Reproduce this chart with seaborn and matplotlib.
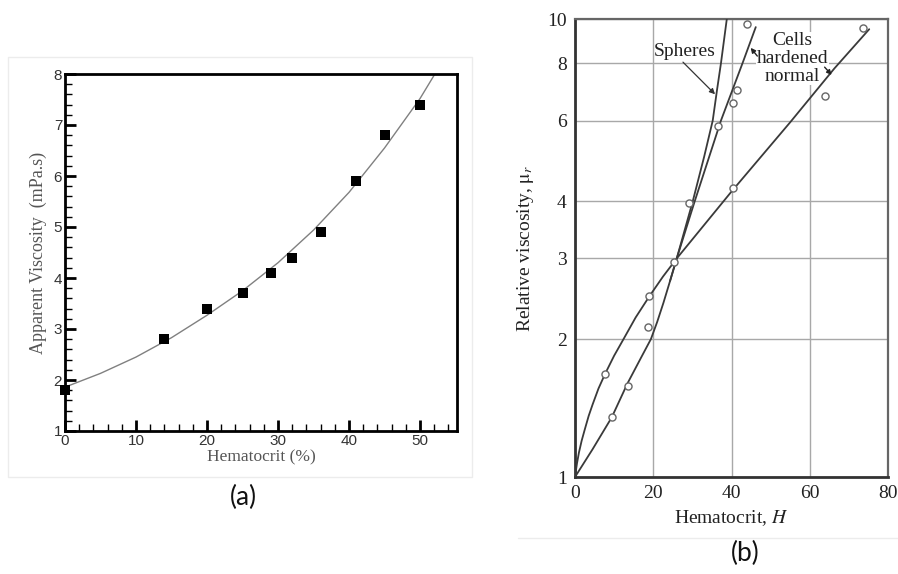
import numpy as np
import pandas as pd
import matplotlib
matplotlib.use("Agg")
import matplotlib.pyplot as plt
import seaborn as sns
from matplotlib.ticker import MultipleLocator, FixedLocator, FixedFormatter, NullLocator
from matplotlib.patches import Rectangle
from matplotlib.lines import Line2D

# --- panel (a): apparent viscosity vs hematocrit ---
hct_a = [0, 14, 20, 25, 29, 32, 36, 41, 45, 50]
visc_a = [1.8, 2.8, 3.4, 3.7, 4.1, 4.4, 4.9, 5.9, 6.8, 7.4]
fit_x_a = [0, 5, 10, 15, 20, 25, 30, 35, 40, 45, 50, 52]
fit_y_a = [1.86, 2.13, 2.45, 2.83, 3.27, 3.75, 4.3, 4.94, 5.68, 6.55, 7.52, 7.98]

# --- panel (b): relative viscosity (log) vs hematocrit ---
normal_x = [0, 0.5, 1, 1.7, 2.5, 3.5, 4.5, 6, 7.7, 10, 12.4, 15.5, 19, 22.5, 26, 40, 55, 66.3, 75.2]
normal_y = [1.0, 1.07, 1.13, 1.2, 1.27, 1.36, 1.44, 1.56, 1.68, 1.84, 2.0, 2.23, 2.48, 2.74, 3.0, 4.2, 5.95, 7.8, 9.5]
hard_x = [0, 4.5, 9.4, 13.4, 17, 19.4, 21, 22.6, 24.3, 26, 30.6, 37.3, 42.8, 46.2]
hard_y = [1.0, 1.15, 1.35, 1.6, 1.83, 2.0, 2.18, 2.4, 2.68, 3.0, 4.0, 6.0, 8.0, 9.6]
sphere_x = [24.3, 26, 30.1, 33, 35.2, 36.3, 37.3, 38.8]
sphere_y = [2.68, 3.0, 4.0, 5.0, 6.0, 7.0, 8.0, 10.0]
normal_pts_x = [7.7, 19, 25.4, 40.3, 63.8, 73.5]
normal_pts_y = [1.68, 2.48, 2.95, 4.27, 6.78, 9.55]
hard_pts_x = [9.4, 13.5, 18.7, 29.1, 36.6, 40.3, 41.5, 44]
hard_pts_y = [1.35, 1.58, 2.13, 3.97, 5.85, 6.56, 7.0, 9.73]

yticks_b = [1, 2, 3, 4, 6, 8, 10]
xticks_b = [0, 20, 40, 60, 80]

sns.set_theme(style="white")
plt.rcParams["mathtext.fontset"] = "stix"

fig = plt.figure(figsize=(8.98, 5.74), dpi=100)
W, H = 898, 574

# faint card borders like the source screenshot
fig.add_artist(Rectangle((8 / W, 1 - 477 / H), 464 / W, 420 / H, transform=fig.transFigure,
                         fill=False, edgecolor="#ececec", lw=1))
fig.add_artist(Line2D([518 / W, 1], [1 - 538 / H, 1 - 538 / H], transform=fig.transFigure,
                      color="#ececec", lw=1))

# ---------------- (a) ----------------
ax_a = fig.add_axes([65 / W, 1 - 431 / H, 392 / W, 357 / H])
sns.lineplot(x=fit_x_a, y=fit_y_a, ax=ax_a, color="#808080", lw=1.0, sort=False, estimator=None)
sns.scatterplot(x=hct_a, y=visc_a, ax=ax_a, marker="s", s=52, color="black",
                edgecolor="none", zorder=5, clip_on=False)
ax_a.set_xlim(0, 55.2)
ax_a.set_ylim(1, 8)
ax_a.xaxis.set_major_locator(MultipleLocator(10))
ax_a.xaxis.set_minor_locator(MultipleLocator(2))
ax_a.yaxis.set_major_locator(MultipleLocator(1))
ax_a.yaxis.set_minor_locator(MultipleLocator(0.2))
ax_a.tick_params(which="major", direction="in", length=8, width=2, color="black",
                 labelsize=11, pad=2, labelcolor="#333333")
ax_a.tick_params(which="minor", direction="in", length=5, width=1, color="black")
ax_a.tick_params(bottom=True, left=True, top=False, right=False, which="both")
for lab in ax_a.get_xticklabels() + ax_a.get_yticklabels():
    lab.set_family(["Liberation Sans", "DejaVu Sans"])
for sp in ax_a.spines.values():
    sp.set_color("black")
    sp.set_linewidth(2)
ax_a.set_xlabel("Hematocrit (%)", family=["Liberation Serif"], fontsize=12.5,
                color="#555555", labelpad=1)
ax_a.set_ylabel("Apparent Viscosity  (mPa.s)", family=["Liberation Serif"], fontsize=13,
                color="#555555", labelpad=5)

# ---------------- (b) ----------------
ax_b = fig.add_axes([575 / W, 1 - 477 / H, 313 / W, 458 / H])
ax_b.set_yscale("log")
line_kw = dict(ax=ax_b, color="#3a3a3a", lw=1.3, sort=False, estimator=None, zorder=3)
sns.lineplot(x=normal_x, y=normal_y, **line_kw)
sns.lineplot(x=hard_x, y=hard_y, **line_kw)
sns.lineplot(x=sphere_x, y=sphere_y, **line_kw)
pts = pd.DataFrame({"H": normal_pts_x + hard_pts_x, "mu": normal_pts_y + hard_pts_y})
sns.scatterplot(data=pts, x="H", y="mu", ax=ax_b, marker="o", s=26, facecolor="white",
                edgecolor="#666666", linewidth=1.0, zorder=4)
ax_b.set_xlim(0, 80)
ax_b.set_ylim(1, 10)
ax_b.xaxis.set_major_locator(FixedLocator(xticks_b))
ax_b.yaxis.set_major_locator(FixedLocator(yticks_b))
ax_b.yaxis.set_major_formatter(FixedFormatter([str(t) for t in yticks_b]))
ax_b.yaxis.set_minor_locator(NullLocator())
ax_b.grid(True, which="major", color="#a8a8a8", lw=1.0)
ax_b.tick_params(length=0, pad=6, labelsize=14, labelcolor="#222222")
for lab in ax_b.get_xticklabels() + ax_b.get_yticklabels():
    lab.set_family(["Liberation Serif"])
for side in ["left", "bottom"]:
    ax_b.spines[side].set_color("#333333")
    ax_b.spines[side].set_linewidth(2.0)
for side in ["top", "right"]:
    ax_b.spines[side].set_color("#666666")
    ax_b.spines[side].set_linewidth(1.6)
ax_b.set_xlabel("Hematocrit, $H$", family=["Liberation Serif"], fontsize=14,
                color="#222222", labelpad=4)
ax_b.set_ylabel(r"Relative viscosity, $\mathrm{\mu}_r$", family=["Liberation Serif"],
                fontsize=14, color="#222222", labelpad=8)

ax_b.text(28.1, 8.5, "Spheres", ha="center", va="center",
          family=["Liberation Serif"], fontsize=14, color="#222222")
ax_b.annotate("", xy=(35.8, 6.85), xytext=(27.6, 8.05),
              arrowprops=dict(arrowstyle="-|>", color="#333333", lw=0.9,
                              mutation_scale=8, shrinkA=0, shrinkB=0))
ax_b.text(55.5, 8.2, "Cells\nhardened\nnormal", ha="center", va="center",
          family=["Liberation Serif"], fontsize=14, color="#222222", linespacing=1.05,
          zorder=1.5, bbox=dict(facecolor="white", edgecolor="none", pad=0.5))
ax_b.annotate("", xy=(44.9, 8.65), xytext=(46.6, 8.3),
              arrowprops=dict(arrowstyle="-|>", color="#222222", lw=1.0,
                              mutation_scale=7, shrinkA=0, shrinkB=0))
ax_b.annotate("", xy=(65.6, 7.55), xytext=(63.8, 7.85),
              arrowprops=dict(arrowstyle="-|>", color="#222222", lw=1.0,
                              mutation_scale=7, shrinkA=0, shrinkB=0))

# panel captions
fig.text(243 / W, 1 - 497 / H, "(a)", ha="center", va="center",
         family=["Lato", "DejaVu Sans"], fontsize=19, color="#111111")
fig.text(745 / W, 1 - 553 / H, "(b)", ha="center", va="center",
         family=["Lato", "DejaVu Sans"], fontsize=19, color="#111111")

fig.savefig("out.png", dpi=100)
